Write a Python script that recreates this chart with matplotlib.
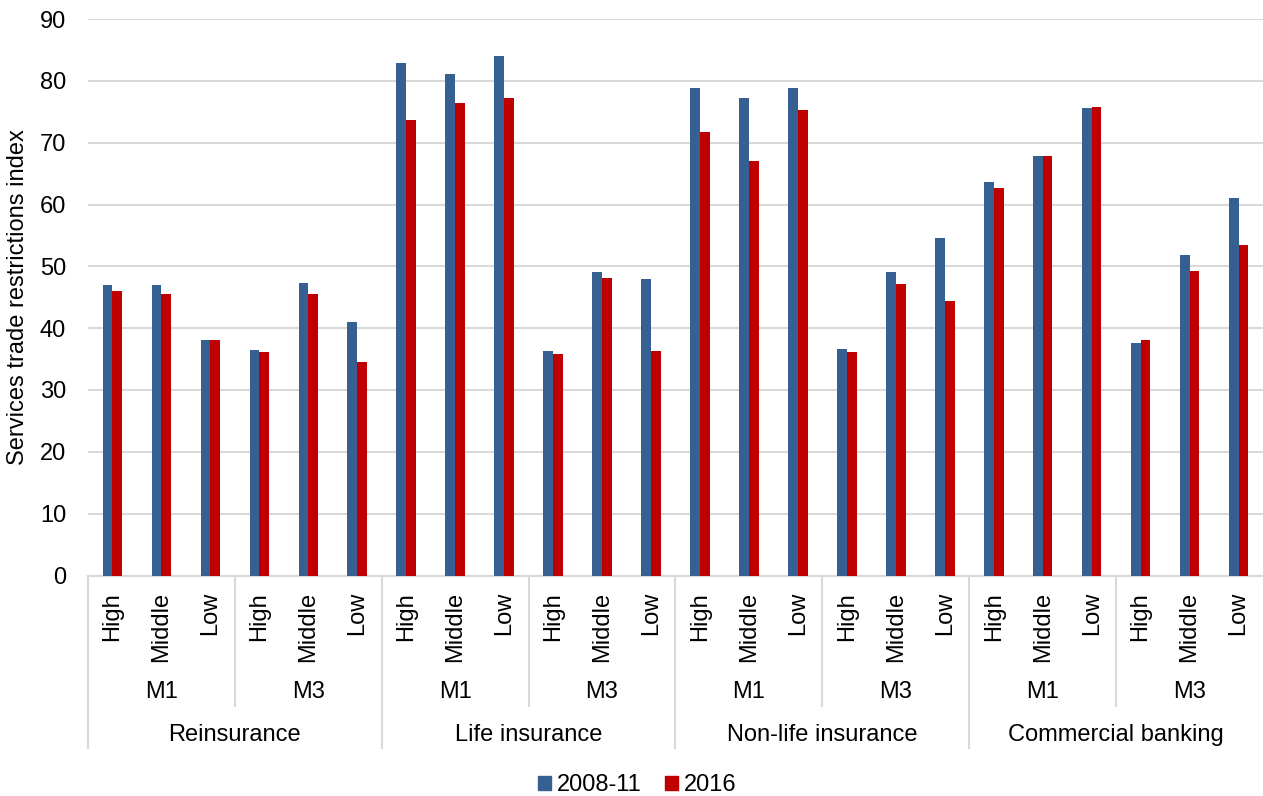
import numpy as np
import matplotlib
matplotlib.use('Agg')
import matplotlib.pyplot as plt
from matplotlib.patches import Patch
from matplotlib.lines import Line2D
from matplotlib.transforms import blended_transform_factory

plt.rcParams['font.family'] = ['Liberation Sans', 'DejaVu Sans']

# data
sectors = ['Reinsurance', 'Life insurance', 'Non-life insurance', 'Commercial banking']
modes = ['M1', 'M3']
incomes = ['High', 'Middle', 'Low']

vals_2008 = [47.0, 47.0, 38.1, 36.5, 47.3, 41.0,
             82.9, 81.1, 84.0, 36.3, 49.1, 48.0,
             78.8, 77.2, 78.8, 36.7, 49.1, 54.6,
             63.6, 67.9, 75.6, 37.6, 51.9, 61.1]
vals_2016 = [46.0, 45.5, 38.1, 36.1, 45.5, 34.5,
             73.6, 76.4, 77.3, 35.8, 48.1, 36.3,
             71.8, 67.1, 75.3, 36.2, 47.2, 44.4,
             62.7, 67.8, 75.8, 38.1, 49.2, 53.5]

BLUE = '#376092'
RED = '#C00000'
GRID = '#d9d9d9'
FS = 17

W, H = 1263, 796
fig = plt.figure(figsize=(W / 100, H / 100), dpi=100)

# axes placement in pixels
x0, x1 = 88, 1263
y_top, y_zero = 19, 575.5
ax = fig.add_axes([x0 / W, 1 - y_zero / H, (x1 - x0) / W, (y_zero - y_top) / H])

n = len(vals_2008)
x = np.arange(n)
bw = 0.2
ax.bar(x - bw / 2, vals_2008, width=bw, color=BLUE, zorder=3)
ax.bar(x + bw / 2, vals_2016, width=bw, color=RED, zorder=3)

ax.set_xlim(-0.5, n - 0.5)
ax.set_ylim(0, 90)
ax.set_yticks(range(0, 91, 10))
ax.tick_params(axis='y', length=0, pad=15.8, labelsize=FS)
ax.set_xticks([])
ax.grid(axis='y', color=GRID, linewidth=1.5, zorder=0)
for s in ['top', 'right', 'left']:
    ax.spines[s].set_visible(False)
ax.spines['bottom'].set_color(GRID)
ax.spines['bottom'].set_linewidth(1.5)

fig.text(18 / W, 1 - 297 / H, 'Services trade restrictions index', rotation=90,
         ha='center', va='center', fontsize=FS)

# multi-level category axis
tr = blended_transform_factory(ax.transData, fig.transFigure)

def fy(p):
    return 1 - p / H

for i in range(n):
    ax.text(i, fy(592), incomes[i % 3], transform=tr, rotation=90,
            ha='center', va='top', fontsize=FS)

for k in range(n // 3):
    ax.text(3 * k + 1, fy(692), modes[k % 2], transform=tr,
            ha='center', va='center', fontsize=FS)

for s, name in enumerate(sectors):
    ax.text(6 * s + 2.5, fy(735), name, transform=tr,
            ha='center', va='center', fontsize=FS)
    # sector separators
    fig.add_artist(Line2D([6 * s - 0.5] * 2, [fy(y_zero), fy(748)], transform=tr,
                          color=GRID, linewidth=1.5, clip_on=False))
    # M1/M3 separators
    fig.add_artist(Line2D([6 * s + 2.5] * 2, [fy(y_zero), fy(706)], transform=tr,
                          color=GRID, linewidth=1.5, clip_on=False))

handles = [Patch(color=BLUE, label='2008-11'), Patch(color=RED, label='2016')]
fig.legend(handles=handles, loc='center', bbox_to_anchor=(637 / W, fy(785)),
           ncol=2, frameon=False, fontsize=FS, handlelength=0.55,
           handleheight=0.55, handletextpad=0.25, columnspacing=1.0,
           borderpad=0, borderaxespad=0)

fig.savefig('out.png', dpi=100)
